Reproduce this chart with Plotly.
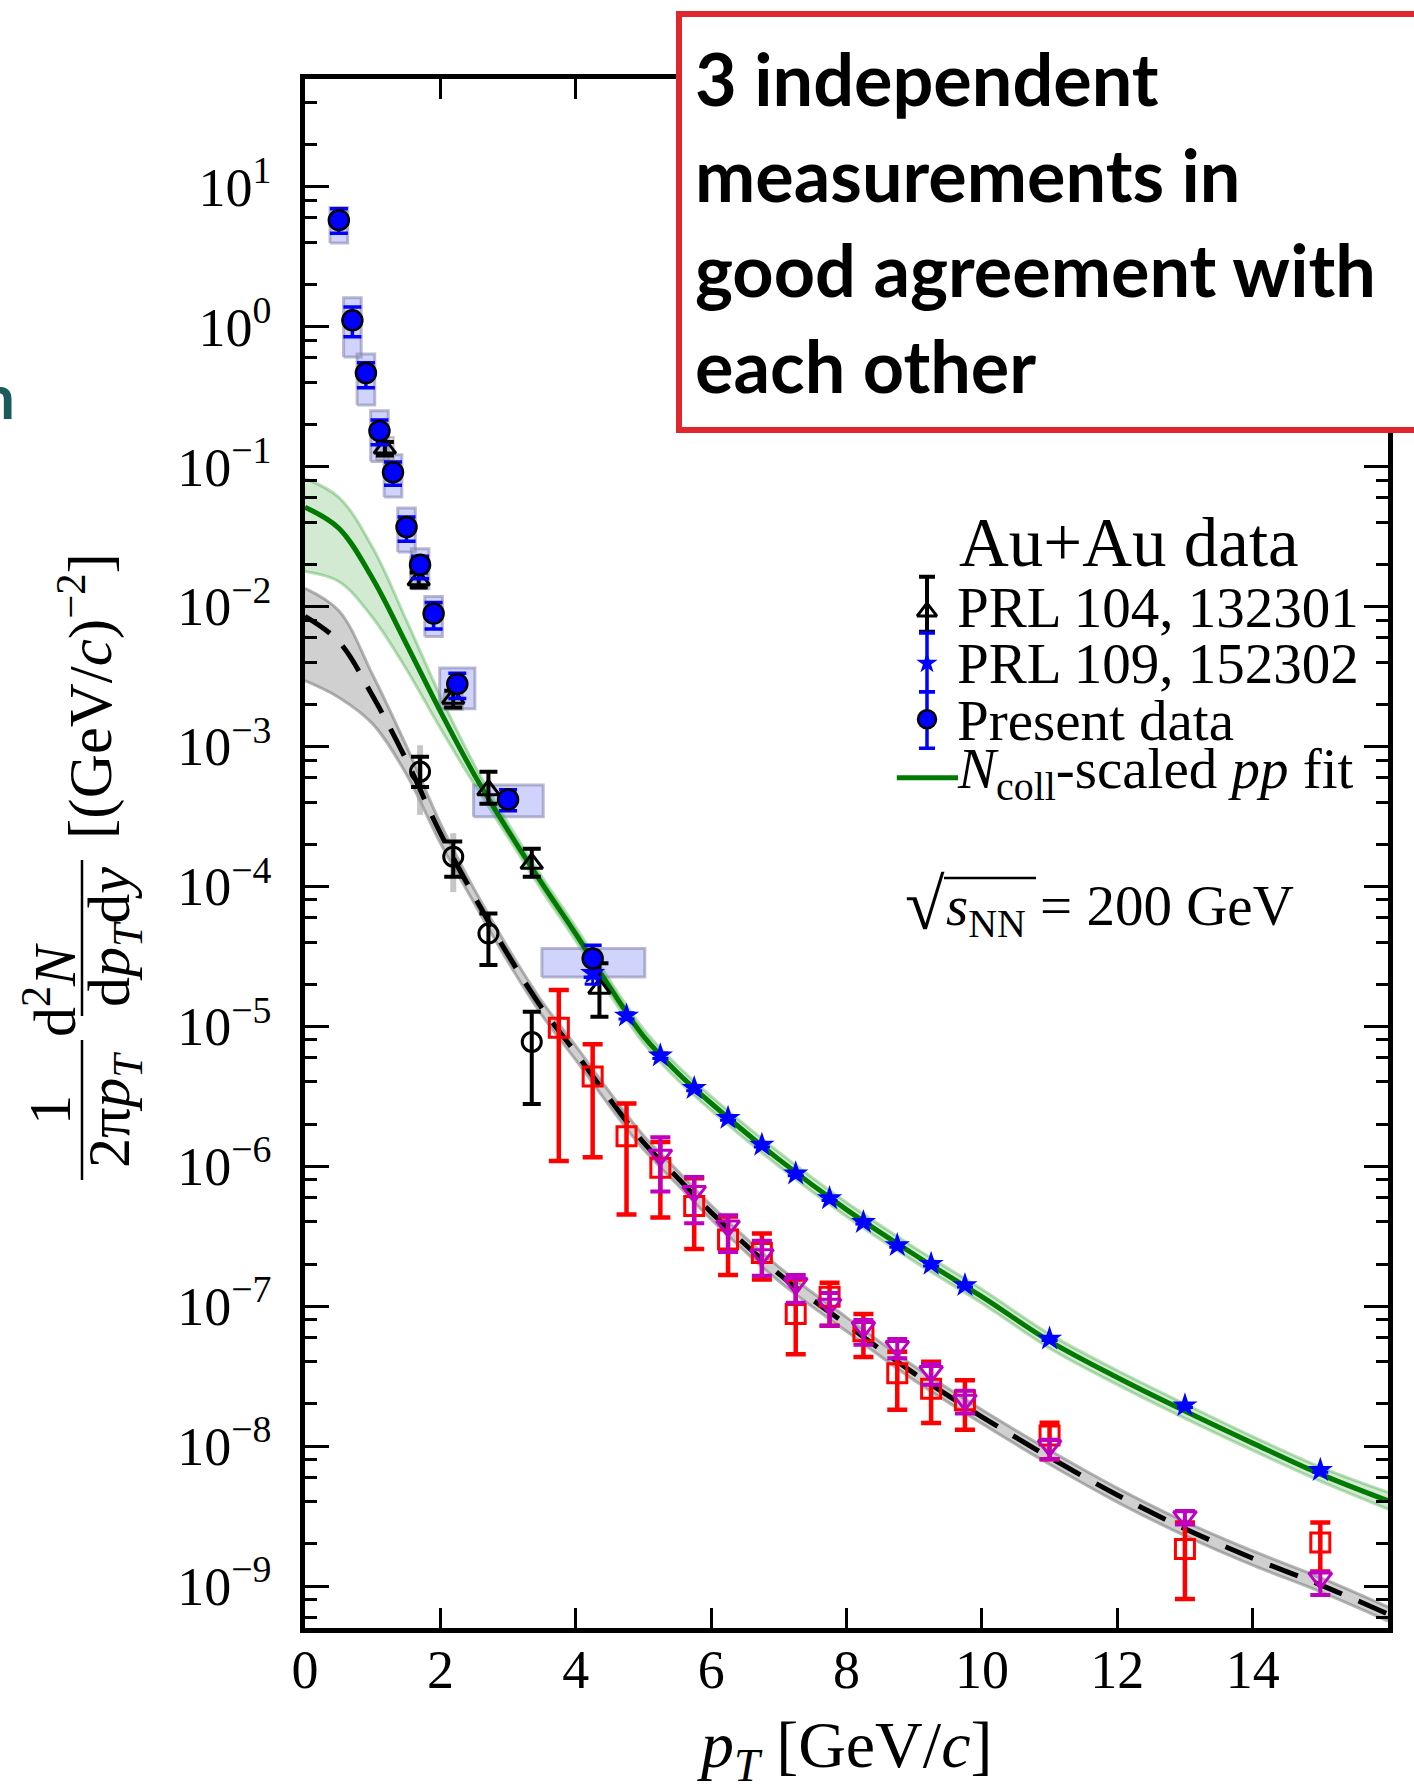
import plotly.graph_objects as go

# ---------------- page / plot-area geometry (pixels) ----------------
W, H = 1414, 1788
L, R, T, B = 305, 1388, 79, 1628

def px(x):
    return (x - L) / (R - L)

def py(y):
    return (B - y) / (B - T)

# ---------------- data ----------------
# Present data (Au+Au), blue circles
pd_pt = [0.5, 0.7, 0.9, 1.1, 1.3, 1.5, 1.7, 1.9, 2.25, 3.0, 4.25]
pd_y = [5.77, 1.11, 0.466, 0.180, 0.0910, 0.0370, 0.0199, 0.00891, 0.00280, 4.18e-4, 3.05e-5]
pd_hi = [6.97, 1.38, 0.552, 0.215, 0.108, 0.0436, 0.0229, 0.0107, 0.00333, 4.90e-4, 3.80e-5]
pd_lo = [4.66, 0.847, 0.366, 0.143, 0.0736, 0.0293, 0.0158, 0.00692, 0.00220, 3.47e-4, 2.24e-5]
pd_sys_xlo = [0.37, 0.57, 0.77, 0.97, 1.17, 1.37, 1.57, 1.77, 1.99, 2.49, 3.50]
pd_sys_xhi = [0.63, 0.83, 1.03, 1.23, 1.43, 1.63, 1.83, 2.03, 2.51, 3.52, 5.02]
pd_sys_hi = [7.10, 1.61, 0.637, 0.251, 0.1216, 0.0505, 0.0259, 0.0118, 0.00363, 5.30e-4, 3.60e-5]
pd_sys_lo = [3.96, 0.607, 0.275, 0.1086, 0.0607, 0.0245, 0.0134, 0.0061, 0.00186, 3.14e-4, 2.25e-5]

# PRL 104, 132301 (black open triangles)
p104_pt = [1.18, 1.68, 2.19, 2.71, 3.35, 4.35]
p104_y = [0.135, 0.01545, 0.0022, 4.88e-4, 1.456e-4, 1.862e-5]
p104_hi = [0.150, 0.0175, 0.0025, 6.6e-4, 1.86e-4, 2.82e-5]
p104_lo = [0.120, 0.0137, 0.0019, 3.9e-4, 1.17e-4, 1.17e-5]
p104_sys_xlo = [1.05, 1.55, 2.05]
p104_sys_xhi = [1.31, 1.81, 2.33]
p104_sys_hi = [0.163, 0.0226, 0.0024]
p104_sys_lo = [0.111, 0.0138, 0.00182]

# PRL 109, 152302 (blue stars)
p109_pt = [4.25, 4.75, 5.25, 5.75, 6.25, 6.75, 7.25, 7.75, 8.25, 8.75, 9.25, 9.75, 11, 13, 15]
p109_y = [2.40e-5, 1.19e-5, 6.17e-6, 3.61e-6, 2.21e-6, 1.42e-6, 8.85e-7, 5.89e-7, 3.98e-7,
          2.72e-7, 2.00e-7, 1.41e-7, 5.85e-8, 1.95e-8, 6.73e-9]
p109_hi = [2.90e-5, 1.25e-5, 6.45e-6, 3.75e-6, 2.29e-6, 1.47e-6, 9.15e-7, 6.08e-7, 4.10e-7,
           2.80e-7, 2.06e-7, 1.45e-7, 6.02e-8, 2.01e-8, 6.95e-9]
p109_lo = [2.00e-5, 1.13e-5, 5.89e-6, 3.47e-6, 2.13e-6, 1.37e-6, 8.55e-7, 5.70e-7, 3.86e-7,
           2.64e-7, 1.94e-7, 1.37e-7, 5.68e-8, 1.89e-8, 6.51e-9]

# p+p reference data: black open circles
ppc_pt = [1.70, 2.19, 2.71, 3.35]
ppc_y = [6.61e-4, 1.63e-4, 4.60e-5, 7.74e-6]
ppc_hi = [8.43e-4, 2.09e-4, 6.40e-5, 1.27e-5]
ppc_lo = [5.14e-4, 1.17e-4, 2.74e-5, 2.79e-6]
ppc_sys_hi = [1.02e-3, 2.40e-4]
ppc_sys_lo = [3.24e-4, 9.10e-5]

# p+p reference data: red open squares
pps_pt = [3.75, 4.25, 4.75, 5.25, 5.75, 6.25, 6.75, 7.25, 7.75, 8.25, 8.75, 9.25, 9.75, 11, 13, 15]
pps_y = [9.75e-6, 4.37e-6, 1.64e-6, 9.75e-7, 5.19e-7, 3.00e-7, 2.40e-7, 8.79e-8, 1.17e-7,
         6.61e-8, 3.31e-8, 2.57e-8, 2.13e-8, 1.19e-8, 1.84e-9, 2.05e-9]
pps_hi = [1.82e-5, 7.45e-6, 2.81e-6, 1.49e-6, 8.20e-7, 4.38e-7, 3.30e-7, 1.55e-7, 1.47e-7,
          8.79e-8, 4.73e-8, 4.00e-8, 2.95e-8, 1.47e-8, 2.84e-9, 2.84e-9]
pps_lo = [1.09e-6, 1.16e-6, 4.52e-7, 4.30e-7, 2.56e-7, 1.67e-7, 1.55e-7, 4.53e-8, 7.26e-8,
          4.34e-8, 1.82e-8, 1.46e-8, 1.31e-8, 8.04e-9, 8.09e-10, 1.27e-9]

# p+p reference data: magenta open down-triangles
ppt_pt = [5.25, 5.75, 6.25, 6.75, 7.25, 7.75, 8.25, 8.75, 9.25, 9.75, 11, 13, 15]
ppt_y = [1.20e-6, 6.59e-7, 3.74e-7, 2.33e-7, 1.45e-7, 1.03e-7, 7.05e-8, 5.14e-8, 3.41e-8,
         2.13e-8, 1.01e-8, 3.13e-9, 1.14e-9]
ppt_hi = [1.61e-6, 8.38e-7, 4.47e-7, 2.94e-7, 1.67e-7, 1.24e-7, 7.98e-8, 5.82e-8, 3.86e-8,
          2.49e-8, 1.11e-8, 3.44e-9, 1.26e-9]
ppt_lo = [6.59e-7, 3.91e-7, 2.44e-7, 1.65e-7, 1.06e-7, 7.26e-8, 5.31e-8, 4.25e-8, 2.74e-8,
          1.71e-8, 8.04e-9, 2.75e-9, 8.63e-10]

# fit curves
fit_pt = [0, 0.5, 1.0, 1.5, 2.0, 2.5, 3.0, 3.5, 4.0, 4.5, 5.0, 5.5, 6.0, 7.0, 8.0, 9.0,
          10.0, 11.0, 12.0, 13.0, 14.0, 15.0, 16.0]
green_mid = [0.0513, 0.0363, 0.0158, 0.00537, 0.00178, 6.31e-4, 2.51e-4, 1.05e-4, 4.57e-5,
             1.91e-5, 8.51e-6, 4.68e-6, 2.82e-6, 1.12e-6, 4.90e-7, 2.34e-7, 1.17e-7, 5.62e-8,
             3.09e-8, 1.78e-8, 1.05e-8, 6.31e-9, 4.07e-9]
green_up = [0.0822, 0.0603, 0.0263, 0.00794, 0.00229, 7.41e-4, 2.82e-4, 1.17e-4, 5.13e-5,
            2.14e-5, 9.55e-6, 5.25e-6, 3.16e-6, 1.26e-6, 5.50e-7, 2.63e-7, 1.32e-7, 6.31e-8,
            3.47e-8, 2.00e-8, 1.17e-8, 7.08e-9, 4.68e-9]
green_dn = [0.0178, 0.0151, 0.00832, 0.00355, 0.00135, 5.37e-4, 2.24e-4, 9.33e-5, 4.07e-5,
            1.70e-5, 7.59e-6, 4.17e-6, 2.51e-6, 1.00e-6, 4.37e-7, 2.09e-7, 1.05e-7, 5.01e-8,
            2.75e-8, 1.58e-8, 9.33e-9, 5.62e-9, 3.55e-9]
gray_mid = [0.00851, 0.00562, 0.00229, 7.94e-4, 2.40e-4, 8.51e-5, 3.24e-5, 1.35e-5, 6.46e-6,
            3.02e-6, 1.48e-6, 8.32e-7, 4.68e-7, 1.70e-7, 7.41e-8, 3.31e-8, 1.62e-8, 8.32e-9,
            4.47e-9, 2.57e-9, 1.58e-9, 1.02e-9, 6.31e-10]
gray_up = [0.0135, 0.00933, 0.00324, 0.00100, 2.82e-4, 9.55e-5, 3.63e-5, 1.51e-5, 7.24e-6,
           3.39e-6, 1.66e-6, 9.33e-7, 5.25e-7, 1.91e-7, 8.32e-8, 3.72e-8, 1.82e-8, 9.33e-9,
           5.01e-9, 2.88e-9, 1.78e-9, 1.15e-9, 7.08e-10]
gray_dn = [0.00295, 0.00224, 0.00145, 6.31e-4, 2.04e-4, 7.59e-5, 2.88e-5, 1.20e-5, 5.75e-6,
           2.69e-6, 1.32e-6, 7.41e-7, 4.17e-7, 1.51e-7, 6.61e-8, 2.95e-8, 1.45e-8, 7.41e-9,
           3.98e-9, 2.29e-9, 1.41e-9, 9.12e-10, 5.62e-10]

x_ticks = [0, 2, 4, 6, 8, 10, 12, 14]
y_exps = [-9, -8, -7, -6, -5, -4, -3, -2, -1, 0, 1]

# ---------------- helpers ----------------
def errs(y, hi, lo):
    return [h - v for v, h in zip(y, hi)], [v - l for v, l in zip(y, lo)]

def boxes(xlo, xhi, ylo, yhi):
    xs, ys = [], []
    for a, b, c, d in zip(xlo, xhi, ylo, yhi):
        xs += [a, b, b, a, a, None]
        ys += [c, c, d, d, c, None]
    return xs, ys

SERIF = "Liberation Serif, Times New Roman, serif"
fig = go.Figure()

# bands
def band(x, up, dn, fillc, edgec):
    fig.add_trace(go.Scatter(x=x, y=dn, mode="lines", line=dict(color=edgec, width=3, shape="spline"),
                             hoverinfo="skip", showlegend=False))
    fig.add_trace(go.Scatter(x=x, y=up, mode="lines", line=dict(color=edgec, width=3, shape="spline"),
                             fill="tonexty", fillcolor=fillc, hoverinfo="skip", showlegend=False))

band(fit_pt, gray_up, gray_dn, "rgba(150,150,150,0.45)", "rgba(120,120,120,0.55)")
band(fit_pt, green_up, green_dn, "rgba(0,140,0,0.18)", "rgba(0,140,0,0.28)")

# systematic boxes
bx, by = boxes(pd_sys_xlo, pd_sys_xhi, pd_sys_lo, pd_sys_hi)
fig.add_trace(go.Scatter(x=bx, y=by, mode="lines", fill="toself",
                         fillcolor="rgba(120,130,245,0.35)",
                         line=dict(color="rgba(130,130,170,0.55)", width=3),
                         hoverinfo="skip", showlegend=False))
bx, by = boxes(p104_sys_xlo, p104_sys_xhi, p104_sys_lo, p104_sys_hi)
fig.add_trace(go.Scatter(x=bx, y=by, mode="lines", fill="toself",
                         fillcolor="rgba(140,140,140,0.3)",
                         line=dict(color="rgba(120,120,120,0.4)", width=2),
                         hoverinfo="skip", showlegend=False))
# thin gray systematic bars on pp circles
sp, sm = errs(ppc_y[:2], ppc_sys_hi, ppc_sys_lo)
fig.add_trace(go.Scatter(x=ppc_pt[:2], y=ppc_y[:2], mode="markers", marker=dict(size=1, opacity=0),
                         error_y=dict(type="data", array=sp, arrayminus=sm, color="rgba(160,160,160,0.6)",
                                      thickness=6, width=0),
                         hoverinfo="skip", showlegend=False))

# fit lines
fig.add_trace(go.Scatter(x=fit_pt, y=gray_mid, mode="lines",
                         line=dict(color="black", width=5, dash="30px,18px", shape="spline"),
                         hoverinfo="skip", showlegend=False))
fig.add_trace(go.Scatter(x=fit_pt, y=green_mid, mode="lines",
                         line=dict(color="#007a00", width=5, shape="spline"),
                         hoverinfo="skip", showlegend=False))

# data points
def pts(x, y, hi, lo, color, symbol, size, fill, ethick, ewidth, lw=2.5, linecol=None):
    p, m = errs(y, hi, lo)
    fig.add_trace(go.Scatter(
        x=x, y=y, mode="markers",
        marker=dict(symbol=symbol, size=size, color=fill,
                    line=dict(color=linecol or color, width=lw)),
        error_y=dict(type="data", array=p, arrayminus=m, color=color, thickness=ethick, width=ewidth),
        showlegend=False))

pts(pps_pt, pps_y, pps_hi, pps_lo, "#ff0000", "square-open", 19, "#ff0000", 4.5, 10, lw=3)
pts(ppt_pt, ppt_y, ppt_hi, ppt_lo, "#c000c0", "triangle-down-open", 20, "#c000c0", 4, 10, lw=3)
pts(ppc_pt, ppc_y, ppc_hi, ppc_lo, "black", "circle-open", 19, "black", 4, 9, lw=3)
pts(p104_pt, p104_y, p104_hi, p104_lo, "black", "triangle-up-open", 19, "black", 4, 9, lw=3)
pts(p109_pt, p109_y, p109_hi, p109_lo, "#0000ff", "star", 19, "#0000ff", 3, 8, lw=0)
pts(pd_pt, pd_y, pd_hi, pd_lo, "#0000ff", "circle", 20, "#0000ff", 3.5, 9, lw=2.5, linecol="black")

# ---------------- legend glyphs (pixel overlay axes) ----------------
LX = 927
fig.add_trace(go.Scatter(x=[LX], y=[611.7], xaxis="x2", yaxis="y2", mode="markers",
                         marker=dict(symbol="triangle-up-open", size=17, color="black",
                                     line=dict(color="black", width=3)),
                         error_y=dict(type="data", array=[20], arrayminus=[35], color="black",
                                      thickness=4, width=8), showlegend=False))
fig.add_trace(go.Scatter(x=[LX], y=[663.3], xaxis="x2", yaxis="y2", mode="markers",
                         marker=dict(symbol="star", size=16, color="#0000ff", line=dict(width=0)),
                         error_y=dict(type="data", array=[28.4], arrayminus=[30.3], color="#0000ff",
                                      thickness=3.5, width=8), showlegend=False))
fig.add_trace(go.Scatter(x=[LX], y=[719.3], xaxis="x2", yaxis="y2", mode="markers",
                         marker=dict(symbol="circle", size=18, color="#0000ff",
                                     line=dict(color="black", width=2.5)),
                         error_y=dict(type="data", array=[29], arrayminus=[27.6], color="#0000ff",
                                      thickness=3.5, width=8), showlegend=False))
fig.add_trace(go.Scatter(x=[896.8, 958], y=[777.7, 777.7], xaxis="x2", yaxis="y2", mode="lines",
                         line=dict(color="#007a00", width=5), showlegend=False))

# ---------------- axes ----------------
minor_vals = [k * 10.0 ** e for e in range(-10, 2) for k in (2, 4, 6, 8)]
fig.update_layout(
    width=W, height=H,
    margin=dict(l=L, r=W - R, t=T, b=H - B),
    paper_bgcolor="white", plot_bgcolor="white",
    showlegend=False,
    xaxis=dict(range=[0, 16], tickmode="array", tickvals=x_ticks,
               ticks="inside", ticklen=20, tickwidth=2.5, tickcolor="black",
               showline=True, linewidth=4.5, linecolor="black", mirror="allticks",
               showgrid=False, zeroline=False,
               tickfont=dict(family=SERIF, size=54, color="black"), ticklabelstandoff=-10),
    yaxis=dict(type="log", range=[-9.30, 1.77], tickmode="array",
               tickvals=[10.0 ** e for e in y_exps],
               ticktext=["10<sup>%s</sup>" % (str(e).replace("-", "\u2212")) for e in y_exps],
               ticks="inside", ticklen=24, tickwidth=2.5, tickcolor="black",
               minor=dict(tickmode="array", tickvals=minor_vals, ticks="inside", ticklen=12,
                          tickwidth=2.5, tickcolor="black", showgrid=False),
               showline=True, linewidth=4.5, linecolor="black", mirror="allticks",
               showgrid=False, zeroline=False,
               tickfont=dict(family=SERIF, size=54, color="black"), ticklabelstandoff=18),
    xaxis2=dict(range=[L, R], overlaying="x", anchor="y2", visible=False),
    yaxis2=dict(range=[B, T], overlaying="y", anchor="x2", visible=False),
)

# ---------------- annotations ----------------
ann = []
def text(x, y, s, size, family=SERIF, xanchor="center", yanchor="middle", angle=0,
         color="black", weight="normal"):
    ann.append(dict(x=px(x), y=py(y), xref="paper", yref="paper", text=s, showarrow=False,
                    xanchor=xanchor, yanchor=yanchor, textangle=angle,
                    font=dict(family=family, size=size, color=color, weight=weight)))

# x title
text(844, 1750, "<i>p</i><sub><i>T</i></sub> [GeV/<i>c</i>]", 66)
# y title (rotated, built from fractions)
text(50, 1110, "1", 60, angle=-90)
text(113, 1110, "2\u03c0<i>p</i><sub><i>T</i></sub>", 60, angle=-90)
text(50, 990, "d<sup>2</sup><i>N</i>", 60, angle=-90)
text(113, 937, "d<i>p</i><sub><i>T</i></sub>d<i>y</i>", 60, angle=-90)
text(86, 696, "[(GeV/<i>c</i>)<sup>\u22122</sup>]", 61, angle=-90)

# legend texts
text(1129, 543, "Au+Au data", 69)
text(955, 607, "PRL 104, 132301", 57, xanchor="left")
text(955, 663, "PRL 109, 152302", 57, xanchor="left")
text(955, 720, "Present data", 57, xanchor="left")
text(955, 773, "<i>N</i><sub>coll</sub>-scaled <i>pp</i> fit", 57, xanchor="left")
text(903, 905, "<span style='font-size:72px'>\u221a</span>", 57, xanchor="left")
text(944, 910, "<i>s</i><sub>NN</sub> = 200 GeV", 57, xanchor="left")

# red callout text
SANS = "Lato, Open Sans, sans-serif"
for yy, s in [(78, "3 independent"), (174, "measurements in"),
              (269, "good agreement with"), (365, "each other")]:
    text(693, yy, s, 72, family=SANS, xanchor="left", weight="bold")
# clipped slide text fragment at left edge
text(17, 395, "n", 62, family=SANS, xanchor="right", color="#1B5B5E", weight="bold")

fig.update_layout(annotations=ann)

# ---------------- shapes ----------------
def pline(x0, y0, x1, y1, w=2.5, color="black"):
    return dict(type="line", xref="paper", yref="paper", x0=px(x0), y0=py(y0), x1=px(x1), y1=py(y1),
                line=dict(color=color, width=w), layer="above")

shapes = [
    pline(82, 1180, 82, 1040),
    pline(82, 1016, 82, 860),
    pline(944, 878, 1036, 878, w=2.5),
    dict(type="rect", xref="paper", yref="paper", x0=px(679), y0=py(430), x1=px(1440), y1=py(14),
         line=dict(color="#E0262F", width=6), fillcolor="white", layer="above"),
]
fig.update_layout(shapes=shapes)

fig.write_html("out.html")
